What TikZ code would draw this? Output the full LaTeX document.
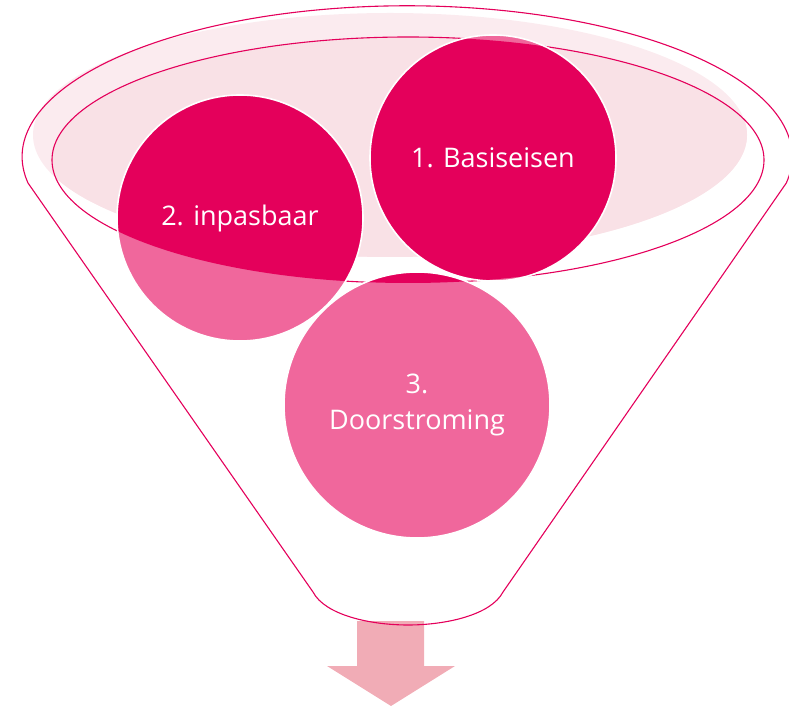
\documentclass[tikz,border=0pt]{standalone}
\usepackage{fontspec}
\setmainfont{Open Sans}

\definecolor{funnelred}{HTML}{E4005B}
\definecolor{balldeep}{HTML}{E4005B}
\definecolor{balllight}{HTML}{F0679C}
\definecolor{bowlpale}{HTML}{FBEBEF}
\definecolor{bowlinner}{HTML}{F9E1E6}
\definecolor{arrowpink}{HTML}{F1ACB6}

\tikzset{
  funnelline/.style={draw=funnelred, line width=1.1pt},
  ball/.style={circle, draw=white, line width=1.6pt, inner sep=0pt,
    text=white, align=center, font=\fontsize{27}{36}\selectfont},
}

\begin{document}
\begin{tikzpicture}[x=1pt,y=1pt]
    \useasboundingbox (0,0) rectangle (789,707);
    % arrow below the spout
    \fill[arrowpink] (357,86) -- (424,86) -- (424,41) -- (455,41) -- (391,1)
        -- (327,41) -- (357,41) -- cycle;
    % inside of the bowl
    \fill[bowlpale] (390,572) ellipse [x radius=357, y radius=122];
    \begin{scope}
        \clip (390,572) ellipse [x radius=357, y radius=122];
        \fill[bowlinner] (408,547) ellipse [x radius=356, y radius=123];
    \end{scope}
    % funnel outline
    \draw[funnelline] (28,524) arc [start angle=190, end angle=-10, x radius=385, y radius=151]
        -- (503,115) .. controls (491,92) and (446,82) .. (408,82)
        .. controls (370,82) and (325,92) .. (313,115) -- cycle;
    \draw[funnelline] (408,547) ellipse [x radius=356, y radius=123];
    % balls, darker where they sit in the bowl
    \foreach \cx/\cy/\r in {493/549/123, 240/489/123, 417/302/133} {
        \fill[balllight] (\cx,\cy) circle [radius=\r];
    }
    \begin{scope}
        \clip (408,547) ellipse [x radius=356, y radius=123];
        \foreach \cx/\cy/\r in {493/549/123, 240/489/123, 417/302/133} {
            \fill[balldeep] (\cx,\cy) circle [radius=\r];
        }
    \end{scope}
    \node[ball, minimum size=246pt] (basis) at (493,549) {1. Basiseisen};
    \node[ball, minimum size=246pt] (inpas) at (240,489) {2. inpasbaar};
    \node[ball, minimum size=266pt] (door) at (417,302) {3.\\Doorstroming};
\end{tikzpicture}
\end{document}
